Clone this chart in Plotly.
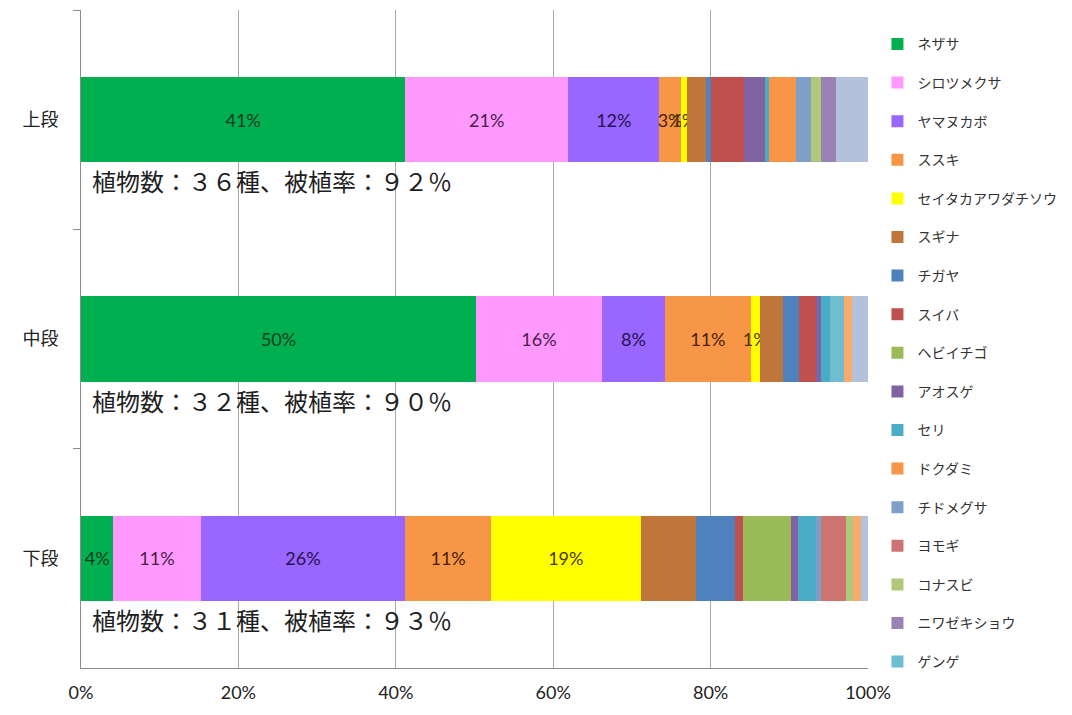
import plotly.graph_objects as go

categories = ["上段", "中段", "下段"]

species = ["ネザサ", "シロツメクサ", "ヤマヌカボ", "ススキ", "セイタカアワダチソウ",
           "スギナ", "チガヤ", "スイバ", "ヘビイチゴ", "アオスゲ", "セリ", "ドクダミ",
           "チドメグサ", "ヨモギ", "コナスビ", "ニワゼキショウ", "ゲンゲ",
           "その他1", "その他2"]

# percent share of each species in [上段, 中段, 下段]
shares = {
    "ネザサ":             [41.2, 50.2, 4.1],
    "シロツメクサ":       [20.7, 16.0, 11.1],
    "ヤマヌカボ":         [11.6, 8.0, 26.0],
    "ススキ":             [2.7, 10.9, 10.9],
    "セイタカアワダチソウ": [0.8, 1.15, 19.0],
    "スギナ":             [2.4, 3.0, 7.0],
    "チガヤ":             [0.6, 2.0, 5.0],
    "スイバ":             [4.2, 2.1, 1.05],
    "ヘビイチゴ":         [0.0, 0.0, 6.1],
    "アオスゲ":           [2.7, 0.7, 0.8],
    "セリ":               [0.5, 1.1, 2.3],
    "ドクダミ":           [3.4, 0.0, 0.0],
    "チドメグサ":         [1.9, 0.0, 0.7],
    "ヨモギ":             [0.0, 0.0, 3.1],
    "コナスビ":           [1.3, 0.0, 0.9],
    "ニワゼキショウ":     [1.9, 0.0, 0.0],
    "ゲンゲ":             [0.0, 1.8, 0.0],
    "その他1":            [0.0, 1.05, 1.05],
    "その他2":            [4.1, 2.0, 0.9],
}

labeled_species = ["ネザサ", "シロツメクサ", "ヤマヌカボ", "ススキ", "セイタカアワダチソウ"]
legend_species = species[:17]

summary = ["植物数：３６種、被植率：９２％",
           "植物数：３２種、被植率：９０％",
           "植物数：３１種、被植率：９３％"]

x_ticks = [0, 20, 40, 60, 80, 100]
x_tick_labels = ["0%", "20%", "40%", "60%", "80%", "100%"]

colors = {
    "ネザサ": "#00B050", "シロツメクサ": "#FF99FF", "ヤマヌカボ": "#9966FF",
    "ススキ": "#F79646", "セイタカアワダチソウ": "#FFFF00", "スギナ": "#C0763A",
    "チガヤ": "#4F81BD", "スイバ": "#C0504D", "ヘビイチゴ": "#9BBB59",
    "アオスゲ": "#8064A2", "セリ": "#4BACC6", "ドクダミ": "#F79646",
    "チドメグサ": "#7F9FCA", "ヨモギ": "#CD7371", "コナスビ": "#AFC97A",
    "ニワゼキショウ": "#9983B5", "ゲンゲ": "#6FBDD1", "その他1": "#F9AB6B",
    "その他2": "#B3C1DC",
}
label_colors = {
    "ネザサ": "#0D3A1E", "シロツメクサ": "#4A1E48", "ヤマヌカボ": "#26124E",
    "ススキ": "#4A1E08", "セイタカアワダチソウ": "#4A3A00",
}

fig = go.Figure()
for sp in species:
    vals = shares[sp]
    kw = {}
    if sp in labeled_species:
        kw["text"] = [f"{round(v)}%" for v in vals]
        kw["texttemplate"] = "%{text}"
        kw["textposition"] = "inside"
        kw["insidetextanchor"] = "middle"
        kw["textangle"] = 0
        kw["insidetextfont"] = dict(family="Lato, Roboto, sans-serif", size=18,
                                    color=label_colors[sp])
    else:
        kw["textposition"] = "none"
    fig.add_trace(go.Bar(
        x=vals, y=categories, orientation="h", name=sp,
        marker=dict(color=colors[sp], line=dict(width=0)),
        showlegend=sp in legend_species, legendgroup=sp,
        hoverinfo="skip", cliponaxis=False, constraintext="none", **kw))

for cat, txt in zip(categories, summary):
    fig.add_annotation(x=1.1, y=cat, xref="x", yref="y", text=txt,
                       showarrow=False, xanchor="left", yanchor="middle", yshift=-61,
                       font=dict(family="Noto Sans CJK JP", size=24, color="#1E1E1E"))

fig.update_layout(
    width=1072, height=715,
    margin=dict(l=81, r=204, t=10, b=47),
    barmode="stack", bargap=0.612,
    plot_bgcolor="white", paper_bgcolor="white",
    uniformtext=dict(mode=False),
    font=dict(family="Noto Sans CJK JP", color="#333333"),
    legend=dict(x=1.012, y=0.972, xanchor="left", yanchor="top",
                traceorder="grouped", tracegroupgap=17.4,
                font=dict(family="Noto Sans CJK JP", size=14, color="#333333"),
                itemwidth=30, bgcolor="rgba(0,0,0,0)"),
    xaxis=dict(range=[0, 100], tickvals=x_ticks, ticktext=x_tick_labels,
               showgrid=True, gridcolor="#A8A8A8", gridwidth=1,
               showline=True, linecolor="#8C8C8C", linewidth=1,
               zeroline=False, ticks="", ticklen=0, ticklabelstandoff=8,
               tickfont=dict(family="Lato, Roboto, sans-serif", size=18, color="#222222")),
    yaxis=dict(categoryorder="array", categoryarray=categories, autorange="reversed",
               showline=True, linecolor="#8C8C8C", linewidth=1,
               ticks="outside", tickson="boundaries", ticklen=7, tickcolor="#8C8C8C",
               showgrid=False, ticklabelstandoff=18,
               tickfont=dict(family="Noto Sans CJK JP", size=18, color="#222222")),
)

fig.write_html("out.html")
